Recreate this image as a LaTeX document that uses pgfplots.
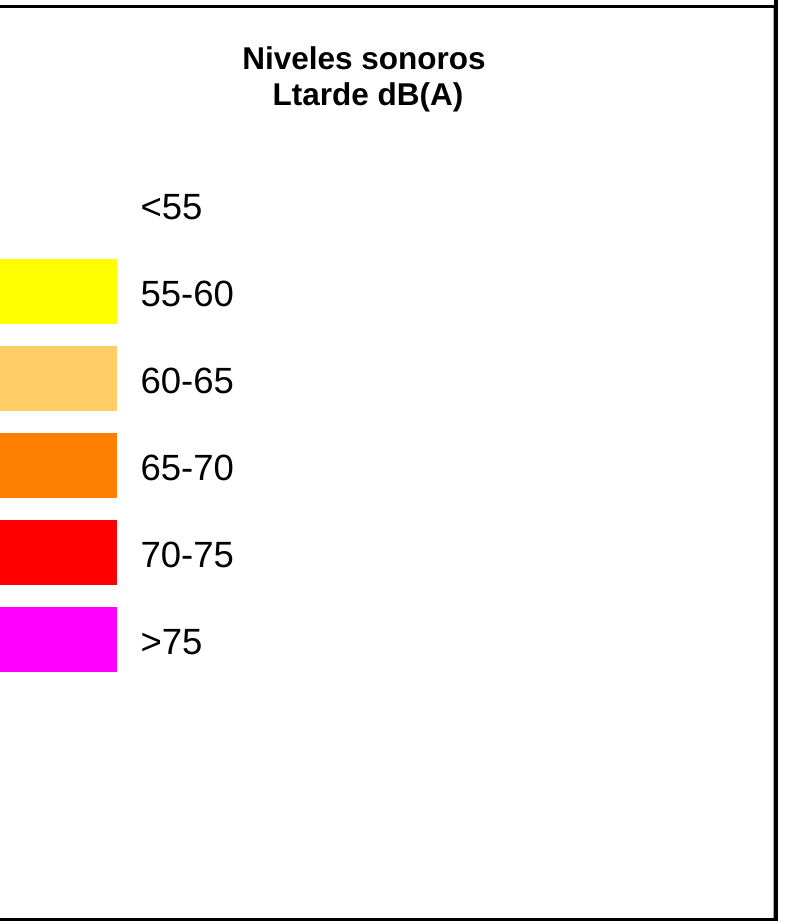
\documentclass[border=0pt]{standalone}
\usepackage{fontspec}
\setmainfont{Liberation Sans}
\usepackage{pgfplots}
\pgfplotsset{compat=1.18}
\definecolor{c1}{RGB}{255,255,0}
\definecolor{c2}{RGB}{255,204,102}
\definecolor{c3}{RGB}{255,128,0}
\definecolor{c4}{RGB}{255,0,0}
\definecolor{c5}{RGB}{255,0,255}
\begin{document}
\begin{tikzpicture}
\begin{axis}[
  width=809pt, height=921pt, scale only axis,
  xmin=0, xmax=809, ymin=0, ymax=921, y dir=reverse,
  axis lines=none, ticks=none, clip=true,
]
% swatches (legend classes)
\addplot[fill=c1, draw=none] coordinates {(0,259) (117,259) (117,324) (0,324)} --cycle;
\addplot[fill=c2, draw=none] coordinates {(0,346) (117,346) (117,411) (0,411)} --cycle;
\addplot[fill=c3, draw=none] coordinates {(0,433) (117,433) (117,498) (0,498)} --cycle;
\addplot[fill=c4, draw=none] coordinates {(0,520) (117,520) (117,585) (0,585)} --cycle;
\addplot[fill=c5, draw=none] coordinates {(0,607) (117,607) (117,672) (0,672)} --cycle;
% frame lines
\addplot[black, line width=3pt] coordinates {(0,6) (776,6)};
\addplot[black, line width=3.2pt] coordinates {(776,0) (776,921)};
\addplot[black, line width=3.4pt] coordinates {(0,920) (776,920)};
\addplot[black!35, line width=0.8pt] coordinates {(773.4,8) (773.4,918)};
% labels
\node[anchor=base west, font=\fontsize{36.5}{42}\selectfont] at (axis cs:137,219) {<55};
\node[anchor=base west, font=\fontsize{36.5}{42}\selectfont] at (axis cs:137,306) {55-60};
\node[anchor=base west, font=\fontsize{36.5}{42}\selectfont] at (axis cs:137,393) {60-65};
\node[anchor=base west, font=\fontsize{36.5}{42}\selectfont] at (axis cs:137,480) {65-70};
\node[anchor=base west, font=\fontsize{36.5}{42}\selectfont] at (axis cs:137,567) {70-75};
\node[anchor=base west, font=\fontsize{36.5}{42}\selectfont] at (axis cs:137,654) {>75};
% title
\node[anchor=base, font=\bfseries\fontsize{31.5}{36}\selectfont] at (axis cs:364,69) {Niveles sonoros};
\node[anchor=base, font=\bfseries\fontsize{31.5}{36}\selectfont] at (axis cs:368,105) {Ltarde dB(A)};
\end{axis}
\pgfresetboundingbox
\path[use as bounding box] (current axis.south west) rectangle (current axis.north east);
\end{tikzpicture}
\end{document}
